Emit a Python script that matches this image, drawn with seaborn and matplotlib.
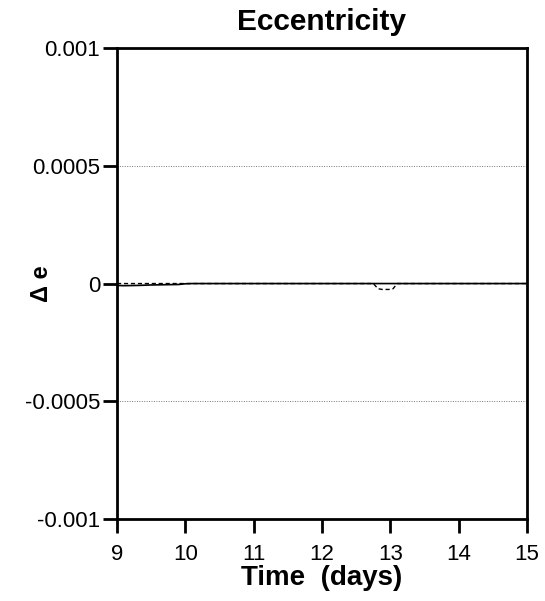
import matplotlib
matplotlib.use("Agg")
import matplotlib.pyplot as plt
import seaborn as sns
import pandas as pd

sns.set_theme(style="white")
plt.rcParams['font.family'] = ['Liberation Sans', 'DejaVu Sans']
plt.rcParams['text.color'] = 'black'
plt.rcParams['axes.labelcolor'] = 'black'
plt.rcParams['xtick.color'] = 'black'
plt.rcParams['ytick.color'] = 'black'

# Solid series (delta e)
t_solid = [9.0, 9.1, 9.3, 9.5, 9.7, 9.9, 10.0, 10.1, 11.0, 12.0, 13.0, 14.0, 15.0]
e_solid = [-0.000008, -0.000009, -0.000008, -0.000006, -0.000005, -0.000004, -0.000001, 0.0, 0.0, 0.0, 0.0, 0.0, 0.0]

# Dashed series
t_dash = [9.0, 10.0, 11.0, 12.0, 12.75, 12.82, 12.88, 12.98, 13.04, 13.1, 14.0, 15.0]
e_dash = [0.0, 0.0, 0.0, 0.0, 0.0, -0.000022, -0.000025, -0.000025, -0.000022, 0.0, 0.0, 0.0]

yticks = [0.001, 0.0005, 0, -0.0005, -0.001]
ylabels = ["0.001", "0.0005", "0", "-0.0005", "-0.001"]
xticks = [9, 10, 11, 12, 13, 14, 15]

fig = plt.figure(figsize=(5.45, 6.01), dpi=100)
ax = fig.add_axes([0.2147, 0.1364, 0.7523, 0.7836])

df_s = pd.DataFrame({"t": t_solid, "e": e_solid})
df_d = pd.DataFrame({"t": t_dash, "e": e_dash})
sns.lineplot(data=df_d, x="t", y="e", ax=ax, color="black", lw=1.0, linestyle=(0, (3, 2)))
sns.lineplot(data=df_s, x="t", y="e", ax=ax, color="black", lw=1.2)

for y in [0.0005, -0.0005]:
    ax.axhline(y, color="#777777", lw=0.7, linestyle=(0, (1, 1.5)), zorder=0)

ax.set_xlim(9, 15)
ax.set_ylim(-0.001, 0.001)
ax.set_xticks(xticks)
ax.set_xticklabels([str(x) for x in xticks], fontsize=16)
ax.set_yticks(yticks)
ax.set_yticklabels(ylabels, fontsize=16)

for s in ax.spines.values():
    s.set_linewidth(2)
    s.set_color("black")
ax.tick_params(axis="both", direction="out", length=10, width=2, color="black")
ax.tick_params(axis="x", bottom=True, pad=8)
ax.tick_params(axis="y", left=True, pad=2)

ax.set_title("Eccentricity", fontsize=21.5, fontweight="bold", pad=13)
ax.set_xlabel("Time  (days)", fontsize=20, fontweight="bold")
ax.xaxis.set_label_coords(0.5, -0.098)
ax.set_ylabel("Δ e", fontsize=17, fontweight="bold")
ax.yaxis.set_label_coords(-0.155, 0.5)

fig.savefig("out.png", dpi=100)
